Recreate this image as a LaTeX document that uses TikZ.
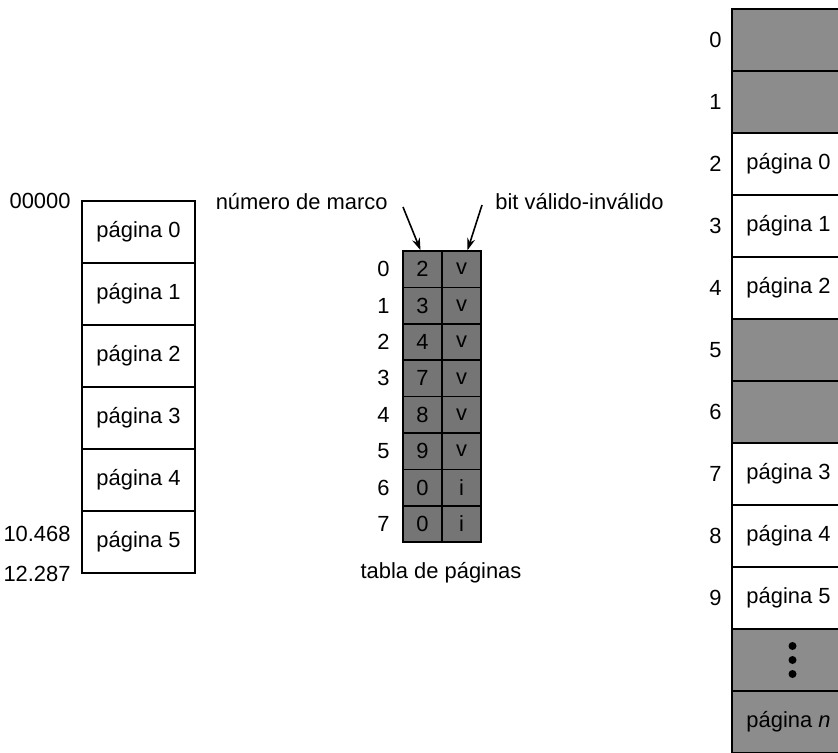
\documentclass[tikz,border=0pt]{standalone}
\usepackage{fontspec}
\setmainfont{Liberation Sans}
\usepackage{xcolor}
\definecolor{framefill}{HTML}{8C8C8C}
\definecolor{tablefill}{HTML}{757575}
\usepackage{tikz}
\usetikzlibrary{arrows.meta}

\begin{document}
\begin{tikzpicture}[x=0.5bp,y=-0.5bp,>={Stealth[length=6bp,width=4bp]},line width=0.8pt,
  every node/.style={font=\fontsize{11}{13}\selectfont},
  memcell/.style={draw,rectangle,inner sep=0pt,minimum width=56.5bp,minimum height=31bp},
  usedcell/.style={memcell,fill=framefill},
  tabcell/.style={draw,rectangle,inner sep=0pt,minimum width=19.5bp,minimum height=18.2bp,fill=tablefill}]
\useasboundingbox (0,0) rectangle (838,753);
\clip (0,0) rectangle (838,753);
% memoria logica
\node[memcell] (L0) at (138.5,232) {página 0};
\node[memcell] (L1) at (138.5,294) {página 1};
\node[memcell] (L2) at (138.5,356) {página 2};
\node[memcell] (L3) at (138.5,418) {página 3};
\node[memcell] (L4) at (138.5,480) {página 4};
\node[memcell] (L5) at (138.5,542) {página 5};
\node[anchor=east] (A0) at (78,201) {00000};
\node[anchor=east] (A1) at (78,534) {10.468};
\node[anchor=east] (A2) at (78,574) {12.287};
% tabla de paginas
\node[tabcell] (M0) at (422.5,269.2) {2};
\node[tabcell] (V0) at (461.5,269.2) {v};
\node[tabcell] (M1) at (422.5,305.6) {3};
\node[tabcell] (V1) at (461.5,305.6) {v};
\node[tabcell] (M2) at (422.5,342) {4};
\node[tabcell] (V2) at (461.5,342) {v};
\node[tabcell] (M3) at (422.5,378.4) {7};
\node[tabcell] (V3) at (461.5,378.4) {v};
\node[tabcell] (M4) at (422.5,414.8) {8};
\node[tabcell] (V4) at (461.5,414.8) {v};
\node[tabcell] (M5) at (422.5,451.2) {9};
\node[tabcell] (V5) at (461.5,451.2) {v};
\node[tabcell] (M6) at (422.5,487.6) {0};
\node[tabcell] (V6) at (461.5,487.6) {i};
\node[tabcell] (M7) at (422.5,524) {0};
\node[tabcell] (V7) at (461.5,524) {i};
\node[anchor=east] (I0) at (397,269.2) {0};
\node[anchor=east] (I1) at (397,305.6) {1};
\node[anchor=east] (I2) at (397,342) {2};
\node[anchor=east] (I3) at (397,378.4) {3};
\node[anchor=east] (I4) at (397,414.8) {4};
\node[anchor=east] (I5) at (397,451.2) {5};
\node[anchor=east] (I6) at (397,487.6) {6};
\node[anchor=east] (I7) at (397,524) {7};
\node (tabla) at (441,573) {tabla de páginas};
\node[anchor=base east] (marco) at (395,209) {número de marco};
\node[anchor=base west] (bit) at (488,209) {bit válido-inválido};
\coordinate (mstart) at (403,207);
\coordinate (vstart) at (482,205);
\draw[->] (mstart) -- ([xshift=-1bp]M0.north);
\draw[->] (vstart) -- ([xshift=3bp]V0.north);
% memoria fisica
\node[usedcell] (F0) at (788.5,40) {};
\node[usedcell] (F1) at (788.5,102) {};
\node[memcell] (F2) at (788.5,164) {página 0};
\node[memcell] (F3) at (788.5,226) {página 1};
\node[memcell] (F4) at (788.5,288) {página 2};
\node[usedcell] (F5) at (788.5,350) {};
\node[usedcell] (F6) at (788.5,412) {};
\node[memcell] (F7) at (788.5,474) {página 3};
\node[memcell] (F8) at (788.5,536) {página 4};
\node[memcell] (F9) at (788.5,598) {página 5};
\node[usedcell] (F10) at (788.5,660) {};
\node[usedcell] (F11) at (788.5,722) {página \textit{n}};
\foreach \d in {-7,0,7} \fill ([xshift=2bp,yshift=\d bp]F10.center) circle (2bp);
\node[anchor=east] (N0) at (729,40) {0};
\node[anchor=east] (N1) at (729,102) {1};
\node[anchor=east] (N2) at (729,164) {2};
\node[anchor=east] (N3) at (729,226) {3};
\node[anchor=east] (N4) at (729,288) {4};
\node[anchor=east] (N5) at (729,350) {5};
\node[anchor=east] (N6) at (729,412) {6};
\node[anchor=east] (N7) at (729,474) {7};
\node[anchor=east] (N8) at (729,536) {8};
\node[anchor=east] (N9) at (729,598) {9};
\end{tikzpicture}
\end{document}
